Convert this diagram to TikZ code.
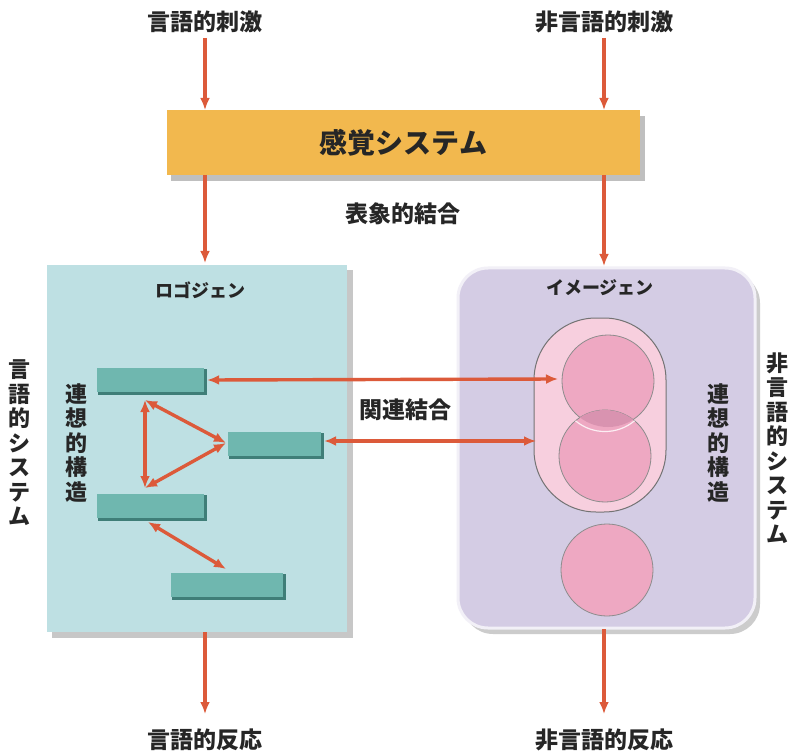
\documentclass[tikz,border=0pt]{standalone}
\usepackage{fontspec}
\newfontfamily\jp{Noto Sans CJK JP}
\usetikzlibrary{arrows.meta,shadows}
\definecolor{arrowc}{HTML}{DC5A3A}
\definecolor{barc}{HTML}{F2B84E}
\definecolor{logoc}{HTML}{BEE0E3}
\definecolor{imagc}{HTML}{D4CCE4}
\definecolor{tealc}{HTML}{6FB7AF}
\definecolor{tealdk}{HTML}{3F7E78}
\definecolor{capc}{HTML}{F7CFDE}
\definecolor{circc}{HTML}{EEA8C2}
\definecolor{lensc}{HTML}{D993B0}
\begin{document}
\begin{tikzpicture}[x=1pt,y=-1pt,
  lab/.style={font=\jp\bfseries\fontsize{23}{26}\selectfont, text=black!85, inner sep=0pt},
  vlab/.style={font=\jp\bfseries\fontsize{22}{24.5}\selectfont, text=black!85, align=center, inner sep=0pt},
  boxlab/.style={font=\jp\bfseries\fontsize{18}{21}\selectfont, text=black!85, inner sep=0pt},
  arr/.style={draw=arrowc, line width=3.4pt, -{Latex[length=12pt,width=10pt]}},
  darr/.style={draw=arrowc, line width=3.4pt, {Latex[length=12pt,width=10pt]}-{Latex[length=12pt,width=10pt]}},
  tbar/.style={draw=none, fill=tealc, inner sep=0pt},
  circ/.style={circle, fill=circc, draw=black!45, line width=0.8pt, minimum size=92pt, inner sep=0pt},
]
\useasboundingbox (0,0) rectangle (793,754);
\fill[white] (0,0) rectangle (793,754);

% top labels
\node[lab] (ls) at (205,22) {言語的刺激};
\node[lab] (ns) at (604,22) {非言語的刺激};

% sensory system bar
\fill[black!25] (171,116) rectangle (645,181);
\node[fill=barc, minimum width=473pt, minimum height=65pt, inner sep=0pt] (sens) at (403.5,142.5) {};
\node[font=\jp\bfseries\fontsize{28}{32}\selectfont, text=black!85] (senst) at (403.5,142.5) {感覚システム};

\coordinate (s1t) at (205,110);
\coordinate (s2t) at (604,110);
\coordinate (s1b) at (205,175);
\coordinate (s2b) at (604,175);
\draw[arr] (ls.south |- 0,38) -- (s1t);
\draw[arr] (ns.south |- 0,38) -- (s2t);

\node[lab] (rep) at (403,214) {表象的結合};

% logogen box
\fill[black!22] (52,270) rectangle (353,638);
\node[fill=logoc, minimum width=300pt, minimum height=367pt, inner sep=0pt] (logo) at (197,448.5) {};
\node[boxlab] (logot) at (200,290) {ロゴジェン};

% imagen box
\fill[black!20, rounded corners=30pt] (463,273) rectangle (760,634);
\node[fill=imagc, draw=white!70!imagc, line width=3pt, rounded corners=30pt, minimum width=297pt, minimum height=360pt, inner sep=0pt] (imag) at (606.5,448) {};
\node[boxlab] (imagt) at (600,288) {イメージェン};

\draw[arr] (s1b) -- (205,263);
\draw[arr] (s2b) -- (604,266);

% capsule
\node[fill=capc, draw=black!55, line width=1pt, rounded corners=62pt, minimum width=132pt, minimum height=194pt, inner sep=0pt] (cap) at (600,415) {};

% circles
\node[circ] (c1) at (608,381) {};
\node[circ] (c2) at (605,456) {};
\begin{scope}
  \clip (608,381) circle (46pt);
  \fill[lensc] (605,456) circle (46pt);
\end{scope}
\draw[white!80!circc, line width=1.2pt] (605,456) ++(50:46pt) arc[start angle=-50, end angle=-130, radius=46pt];
\node[circ] (c3) at (607,570) {};

% logogen bars
\fill[tealdk] (98,369) rectangle (207,395);
\node[tbar, minimum width=107pt, minimum height=24pt] (b1) at (150.5,380) {};
\fill[tealdk] (229,433) rectangle (324,459);
\node[tbar, minimum width=93pt, minimum height=24pt] (b2) at (274.5,444) {};
\fill[tealdk] (98,495) rectangle (207,521);
\node[tbar, minimum width=107pt, minimum height=24pt] (b3) at (150.5,506) {};
\fill[tealdk] (172,574) rectangle (286,600);
\node[tbar, minimum width=112pt, minimum height=24pt] (b4) at (227,585) {};

% triangle arrows
\coordinate (t1) at (145,400);
\coordinate (t2) at (226,443);
\coordinate (t3) at (145,488);
\coordinate (t4) at (148,522);
\coordinate (t5) at (226,569);
\draw[darr] (t1) -- (t3);
\draw[darr] (t1) -- (t2);
\draw[darr] (t3) -- (t2);
\draw[darr] (t4) -- (t5);

% referential arrows
\coordinate (ci1) at (558,379);
\coordinate (ci2) at (536,441);
\draw[darr] (b1.east) ++(3,0) -- (ci1);
\draw[darr] (b2.east) ++(3,-3) -- (ci2);
\node[lab] (assoc) at (405,410) {関連結合};

% vertical labels
\node[vlab] (lstr) at (76,443) {連\\想\\的\\構\\造};
\node[vlab] (rstr) at (718,443) {連\\想\\的\\構\\造};
\node[vlab] (lsys) at (20,443) {言\\語\\的\\シ\\ス\\テ\\ム};
\node[vlab] (nsys) at (777,448) {非\\言\\語\\的\\シ\\ス\\テ\\ム};

% bottom arrows and labels
\node[lab] (lr) at (205,740) {言語的反応};
\node[lab] (nr) at (604,740) {非言語的反応};
\draw[arr] (205,632) -- (lr.north |- 0,714);
\draw[arr] (604,629) -- (nr.north |- 0,714);
\end{tikzpicture}
\end{document}
